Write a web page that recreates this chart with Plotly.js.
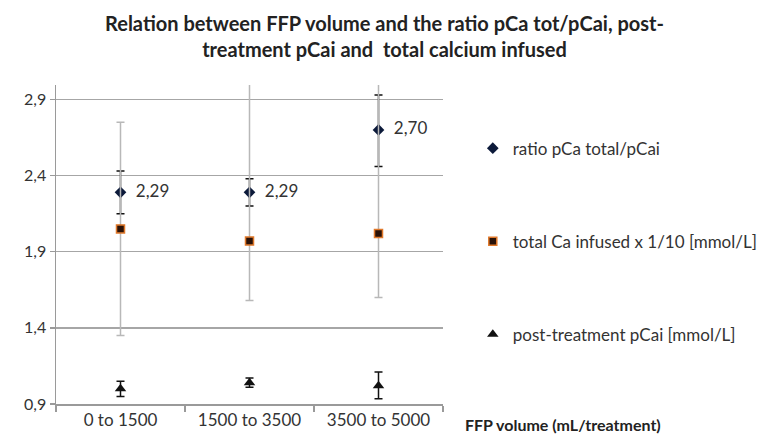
<!DOCTYPE html>
<html>
<head>
<meta charset="utf-8">
<script src="https://cdn.plot.ly/plotly-3.0.1.min.js"></script>
<style>html,body{margin:0;padding:0;background:#fff;}#chart{width:769px;height:440px;}</style>
</head>
<body>
<div id="chart"></div>
<script>
const categories = ["0 to 1500", "1500 to 3500", "3500 to 5000"];
const ratioValues = [2.29, 2.29, 2.70];
const ratioErrPlus = [0.14, 0.09, 0.23];
const ratioErrMinus = [0.14, 0.09, 0.24];
const caInfused = [2.05, 1.97, 2.02];
const caErrPlus = [0.70, 1.20, 1.20];
const caErrMinus = [0.70, 0.39, 0.42];
const postPcai = [1.00, 1.04, 1.02];
const postErrPlus = [0.05, 0.03, 0.09];
const postErrMinus = [0.05, 0.03, 0.085];
const yTicks = [0.9, 1.4, 1.9, 2.4, 2.9];
const seriesNames = ["ratio pCa total/pCai", "total Ca infused x 1/10 [mmol/L]", "post-treatment pCai [mmol/L]"];

const fontFam = "Lato, 'Open Sans', sans-serif";

const traces = [
  {
    type: "scatter", mode: "markers+text", name: seriesNames[0], legendgroup: "a",
    x: categories, y: ratioValues,
    marker: {symbol: "diamond", size: 9, color: "#0c1a3a"},
    text: ratioValues.map(v => "  " + v.toFixed(2).replace(".", ",")),
    textposition: "middle right",
    textfont: {family: fontFam, size: 17, color: "#333"},
    error_y: {type: "data", symmetric: false, array: ratioErrPlus, arrayminus: ratioErrMinus,
              color: "#111", thickness: 1.5, width: 4},
    cliponaxis: true
  },
  {
    type: "scatter", mode: "markers", name: seriesNames[1], legendgroup: "b",
    x: categories, y: caInfused,
    marker: {symbol: "square", size: 8, color: "#2a1208", line: {color: "#e0782a", width: 1.5}},
    error_y: {type: "data", symmetric: false, array: caErrPlus, arrayminus: caErrMinus,
              color: "#b8b8b8", thickness: 1.5, width: 4},
    cliponaxis: true
  },
  {
    type: "scatter", mode: "markers", name: seriesNames[2], legendgroup: "c",
    x: categories, y: postPcai,
    marker: {symbol: "triangle-up", size: 10, color: "#111"},
    error_y: {type: "data", symmetric: false, array: postErrPlus, arrayminus: postErrMinus,
              color: "#111", thickness: 1.5, width: 4},
    cliponaxis: true
  }
];

const layout = {
  width: 769, height: 440,
  margin: {l: 56, r: 326, t: 85, b: 36, autoexpand: false},
  paper_bgcolor: "#fff", plot_bgcolor: "#fff",
  separators: ",.",
  font: {family: fontFam, size: 16, color: "#333"},
  title: {
    text: "<b>Relation between FFP volume and the ratio pCa tot/pCai, post-<br>treatment pCai and  total calcium infused</b>",
    x: 0.5, xanchor: "center", xref: "container",
    y: 0.93, yanchor: "middle", yref: "container",
    font: {family: fontFam, size: 20, color: "#222"}
  },
  xaxis: {
    type: "category", range: [-0.5, 2.5],
    showgrid: false, showline: true, linecolor: "#9a9a9a", linewidth: 1.5,
    ticks: "outside", tickson: "boundaries", ticklen: 6, tickcolor: "#9a9a9a", tickwidth: 1.5,
    tickfont: {family: fontFam, size: 17, color: "#333"},
    zeroline: false, fixedrange: true
  },
  yaxis: {
    range: [0.9, 2.995],
    tickvals: yTicks, ticktext: yTicks.map(v => v.toFixed(1).replace(".", ",")),
    showgrid: true, gridcolor: "#a6a6a6", gridwidth: 1.5,
    showline: true, linecolor: "#9a9a9a", linewidth: 1.5,
    ticks: "outside", ticklen: 5, tickcolor: "#9a9a9a", tickwidth: 1.5,
    tickfont: {family: fontFam, size: 16, color: "#333"},
    zeroline: false, fixedrange: true
  },
  showlegend: true,
  legend: {
    x: 1.077, xanchor: "left", y: 0.857, yanchor: "top",
    traceorder: "grouped", tracegroupgap: 68,
    font: {family: fontFam, size: 17, color: "#333"},
    itemwidth: 30, bgcolor: "rgba(0,0,0,0)"
  },
  annotations: [{
    text: "<b>FFP volume (mL/treatment)</b>",
    xref: "paper", yref: "paper", x: 1.052, xanchor: "left", y: -0.065, yanchor: "middle",
    showarrow: false, font: {family: fontFam, size: 16, color: "#222"}
  }]
};

Plotly.newPlot("chart", traces, layout, {staticPlot: true, displayModeBar: false});
</script>
</body>
</html>
